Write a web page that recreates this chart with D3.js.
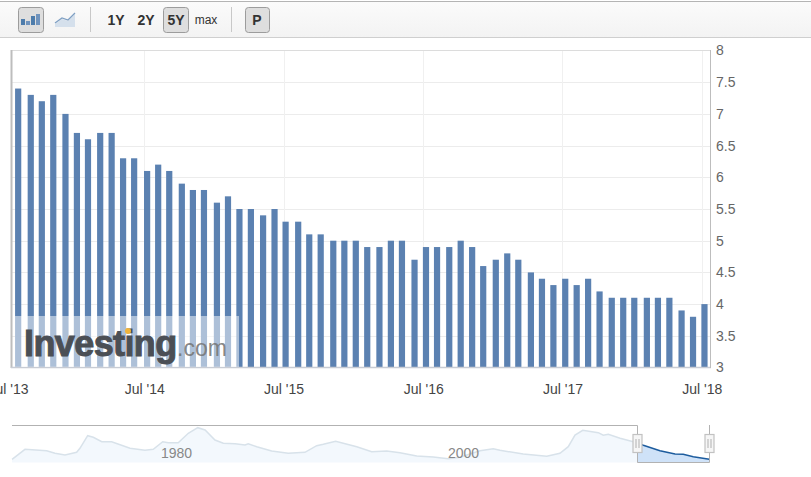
<!DOCTYPE html>
<html><head><meta charset="utf-8">
<script src="https://cdnjs.cloudflare.com/ajax/libs/d3/7.8.5/d3.min.js"></script>
<style>
html,body{margin:0;padding:0;background:#fff;overflow:hidden}
svg{display:block;font-family:"Liberation Sans",Arial,sans-serif}
</style></head><body>
<svg id="c" width="811" height="477"></svg>
<script>
const releaseDates = ["2013-08-04","2013-09-06","2013-10-05","2013-11-04","2013-12-06","2014-01-05","2014-02-03","2014-03-07","2014-04-06","2014-05-06","2014-06-04","2014-07-08","2014-08-06","2014-09-04","2014-10-07","2014-11-05","2014-12-04","2015-01-07","2015-02-05","2015-03-07","2015-04-06","2015-05-08","2015-06-07","2015-07-06","2015-08-08","2015-09-06","2015-10-06","2015-11-08","2015-12-07","2016-01-06","2016-02-05","2016-03-08","2016-04-07","2016-05-06","2016-06-08","2016-07-08","2016-08-06","2016-09-07","2016-10-07","2016-11-06","2016-12-05","2017-01-07","2017-02-06","2017-03-07","2017-04-09","2017-05-08","2017-06-07","2017-07-08","2017-08-07","2017-09-06","2017-10-06","2017-11-07","2017-12-07","2018-01-05","2018-02-07","2018-03-08","2018-04-07","2018-05-09","2018-06-08","2018-07-08"];
const rates = [7.4,7.3,7.2,7.3,7.0,6.7,6.6,6.7,6.7,6.3,6.3,6.1,6.2,6.1,5.9,5.8,5.8,5.6,5.7,5.5,5.5,5.4,5.5,5.3,5.3,5.1,5.1,5.0,5.0,5.0,4.9,4.9,5.0,5.0,4.7,4.9,4.9,4.9,5.0,4.9,4.6,4.7,4.8,4.7,4.5,4.4,4.3,4.4,4.3,4.4,4.2,4.1,4.1,4.1,4.1,4.1,4.1,3.9,3.8,4.0];
const yTicks = [3,3.5,4,4.5,5,5.5,6,6.5,7,7.5,8];
const xTickDates = ["2013-07-01","2014-07-01","2015-07-01","2016-07-01","2017-07-01","2018-07-01"];
const xTickLabels = ["Jul '13","Jul '14","Jul '15","Jul '16","Jul '17","Jul '18"];
const navYears = [1969.83,1970.73,1972.24,1972.82,1973.52,1974.33,1974.56,1975.10,1975.49,1976.08,1976.77,1978.05,1979.09,1979.67,1980.33,1980.72,1981.41,1982.11,1982.77,1983.28,1983.97,1984.55,1985.37,1986.06,1986.29,1986.88,1987.92,1989.08,1990.24,1991.06,1991.52,1992.38,1993.85,1994.89,1995.94,1996.86,1998.03,1999.18,2000.23,2001.04,2002.44,2003.36,2003.83,2005.45,2007.09,2008.01,2008.59,2009.06,2009.6,2010.68,2011.03,2011.38,2012.2,2013.12,2013.38];
const navRates = [3.6,5.87,5.55,4.96,4.58,5.19,6.09,8.95,8.58,7.59,7.59,6.09,5.64,5.87,7.59,7.36,7.36,9.49,10.76,10.23,7.97,7.23,7.14,6.84,7.14,6.46,5.48,4.96,5.19,6.68,7.0,7.68,6.46,5.33,5.48,5.1,4.35,4.13,3.74,4.06,5.55,6.0,5.64,4.8,4.28,4.96,6.46,9.1,10.17,9.62,9.04,9.26,8.36,7.59,7.3];
const selYears = [2013.38,2013.82,2014.98,2016.03,2016.6,2017.3,2018.42];
const selRates = [7.3,6.77,5.55,4.8,4.74,4.19,3.61];
const navLabels = [1980,2000];
const rangeButtons = ["1Y","2Y","5Y","max"];

const svg = d3.select("#c");
const parse = d3.utcParse("%Y-%m-%d");
const x = d3.scaleUtc().domain([parse(xTickDates[0]),parse(xTickDates[5])]).range([5.1,701.7]);
const y = d3.scaleLinear().domain([3,8]).range([367.5,50.5]);
const nx = d3.scaleLinear().domain([1980,2000]).range([158,445]);
const ny = d3.scaleLinear().domain([3,11]).range([462,426.6]);

// toolbar
const grad = svg.append("defs").append("linearGradient").attr("id","tb").attr("x2",0).attr("y2",1);
grad.append("stop").attr("offset",0).attr("stop-color","#fbfbfb");
grad.append("stop").attr("offset",1).attr("stop-color","#f3f3f3");
svg.append("rect").attr("x",0).attr("y",1).attr("width",811).attr("height",36).attr("fill","url(#tb)");
svg.append("line").attr("x1",0).attr("x2",811).attr("y1",1.5).attr("y2",1.5).attr("stroke","#b4b4b4").attr("stroke-width",1);
svg.append("line").attr("x1",0).attr("x2",811).attr("y1",37.5).attr("y2",37.5).attr("stroke","#cfcfcf").attr("stroke-width",1);
const btn=(bx,w)=>svg.append("rect").attr("x",bx+.5).attr("y",7.5).attr("width",w).attr("height",25).attr("rx",3).attr("fill","#dedede").attr("stroke","#9c9c9c");
btn(18,25); btn(163,25); btn(245,24);
[[21,6],[26,4],[31,9],[36,11]].forEach(([bx,h],i)=>svg.append("rect").attr("x",bx).attr("y",25-h).attr("width",4).attr("height",h).attr("fill",i%2?"#6f93bd":"#4d7cab"));
svg.append("path").attr("d","M55 24 L62 19 L68 21 L75 14 L75 27 L55 27Z").attr("fill","#d5e0ec");
svg.append("path").attr("d","M55 23 L62 18 L68 20 L75 13").attr("fill","none").attr("stroke","#7e9fc3").attr("stroke-width",1.3);
[90.5,231.5].forEach(sx=>svg.append("line").attr("x1",sx).attr("x2",sx).attr("y1",7).attr("y2",32).attr("stroke","#c8c8c8"));
const btnX=[116,146,176,206];
rangeButtons.forEach((t,i)=>svg.append("text").attr("x",btnX[i]).attr("y",i==3?24:25).attr("text-anchor","middle").attr("font-size",i==3?12:14).attr("font-weight",i==3?"normal":"bold").attr("fill","#333").text(t));
svg.append("text").attr("x",257).attr("y",25).attr("text-anchor","middle").attr("font-size",14).attr("font-weight","bold").attr("fill","#333").text("P");

// grid
const grid=svg.append("g").attr("stroke","#ececec").attr("stroke-width",1);
yTicks.slice(1,-1).forEach(v=>grid.append("line").attr("x1",12).attr("x2",710).attr("y1",Math.round(y(v))+.5).attr("y2",Math.round(y(v))+.5));
xTickDates.slice(1).forEach(d=>grid.append("line").attr("x1",Math.round(x(parse(d)))+.5).attr("x2",Math.round(x(parse(d)))+.5).attr("y1",50).attr("y2",367).attr("stroke","#f0f0f0"));

// bars
svg.append("g").selectAll("rect").data(rates).join("rect")
  .attr("x",(d,i)=>x(parse(releaseDates[i]))-3)
  .attr("width",6.2)
  .attr("y",d=>y(d))
  .attr("height",d=>y(3)-y(d))
  .attr("fill","#5b81b1");

// frame
svg.append("line").attr("x1",11).attr("x2",710).attr("y1",50.5).attr("y2",50.5).attr("stroke","#dcdcdc");
svg.append("line").attr("x1",11.5).attr("x2",11.5).attr("y1",50).attr("y2",368).attr("stroke","#bdbdbd").attr("stroke-width",2);
svg.append("line").attr("x1",11).attr("x2",711).attr("y1",367.5).attr("y2",367.5).attr("stroke","#c8ccd4").attr("stroke-width",1.5);
svg.append("line").attr("x1",710.5).attr("x2",710.5).attr("y1",50).attr("y2",368).attr("stroke","#bdbdbd");

// watermark
svg.append("rect").attr("x",15).attr("y",316).attr("width",224).attr("height",51).attr("fill","#fff").attr("fill-opacity",.5);
svg.append("text").attr("x",24).attr("y",356).attr("font-size",36).attr("font-weight","bold").attr("fill","#4b4f55").attr("stroke","#4b4f55").attr("stroke-width",1).attr("letter-spacing",-.6).text("Investing");
svg.append("text").attr("x",177).attr("y",356).attr("font-size",23).attr("fill","#777").attr("fill-opacity",.9).text(".com");
svg.append("circle").attr("cx",128).attr("cy",331).attr("r",3).attr("fill","#f0b43c");

// axes
const ya=d3.axisRight(y).tickValues(yTicks).tickSize(0).tickPadding(6).tickFormat(d3.format("~g"));
const yg=svg.append("g").attr("transform","translate(710,0)").call(ya);
yg.select(".domain").remove();
yg.selectAll("text").attr("font-size",14).attr("fill","#666").attr("font-family",null);
const xa=d3.axisBottom(x).tickValues(xTickDates.map(parse)).tickSize(0).tickPadding(0).tickFormat((d,i)=>xTickLabels[i]);
const xg=svg.append("g").attr("transform","translate(0,384)").call(xa);
xg.select(".domain").remove();
xg.selectAll("text").attr("font-size",14).attr("fill","#444").attr("font-family",null).attr("dx",(d,i)=>i==0?3:0);

// navigator
const area=d3.area().x(d=>nx(d[0])).y0(462.5).y1(d=>ny(d[1]));
const line=d3.line().x(d=>nx(d[0])).y(d=>ny(d[1]));
const navData=navYears.map((k,i)=>[k,navRates[i]]);
const selData=selYears.map((k,i)=>[k,selRates[i]]);
svg.append("path").attr("d",area(navData)).attr("fill","#f3f8fd");
svg.append("path").attr("d",line(navData)).attr("fill","none").attr("stroke","#d8e2ea").attr("stroke-width",1.5);
svg.append("path").attr("d",area(selData)).attr("fill","#cfe2f8");
svg.append("path").attr("d",line(selData)).attr("fill","none").attr("stroke","#1d5c9e").attr("stroke-width",1.5);
navLabels.forEach(v=>svg.append("text").attr("x",nx(v)+3).attr("y",458).attr("font-size",14).attr("fill","#888").text(v));
const x0=nx(selYears[0]), x1=nx(selYears[6]);
svg.append("path").attr("d",`M12 425.5 H${Math.round(x0)+.5} V462.5 H${Math.round(x1)+.5} V425`).attr("fill","none").attr("stroke","#b2b2b2").attr("stroke-width",1);
[x0,x1].forEach(h=>{
  const c=Math.round(h)+.5;
  svg.append("rect").attr("x",c-4.5).attr("y",434.5).attr("width",9).attr("height",18).attr("fill","#f6f6f6").attr("stroke","#c2c2c2").attr("stroke-width",1.2);
  [-1.5,1.5].forEach(o=>svg.append("line").attr("x1",c+o).attr("x2",c+o).attr("y1",439).attr("y2",448).attr("stroke","#b0b0b0"));
});
</script></body></html>
